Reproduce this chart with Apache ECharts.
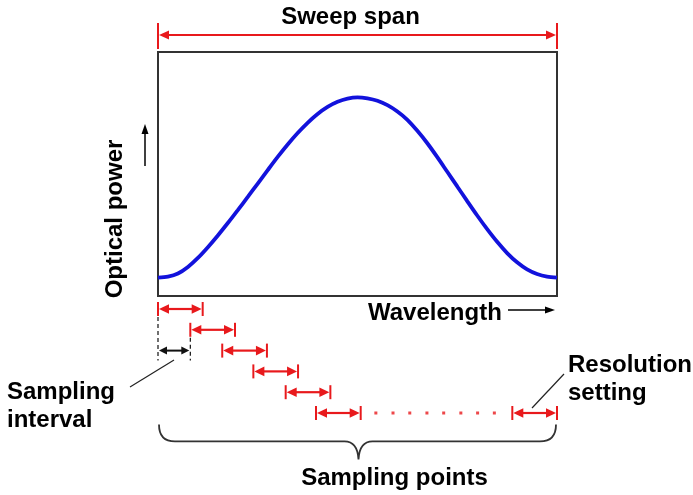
<!DOCTYPE html>
<html><head><meta charset="utf-8">
<script src="https://cdn.jsdelivr.net/npm/echarts@6/dist/echarts.min.js"></script>
<style>html,body{margin:0;padding:0;background:#fff}#c{width:693px;height:495px}</style>
</head><body><div id="c"></div>
<script>
// ---- data ----
const wavelength   = [0, 2.5, 5, 7.5, 10, 12.5, 15, 17.5, 20, 22.5, 25, 27.5, 30, 32.5, 35, 37.5, 40, 42.5, 45, 47.5, 50,
                      52.5, 55, 57.5, 60, 62.5, 65, 67.5, 70, 72.5, 75, 77.5, 80, 82.5, 85, 87.5, 90, 92.5, 95, 97.5, 100];
const opticalPower = [7.5, 7.9, 9.2, 11.9, 15.6, 20.0, 24.8, 29.9, 35.2, 40.6, 46.1, 51.6, 57.0, 62.1, 66.8, 71.0, 74.6, 77.5, 79.6, 80.9, 81.4,
                      81.0, 80.0, 78.2, 75.6, 72.2, 67.7, 62.6, 56.9, 50.9, 44.9, 38.9, 33.0, 27.4, 22.2, 17.6, 13.8, 10.9, 9.0, 7.9, 7.5];
const samplingStarts = [0, 8.1, 16.1, 23.9, 32, 39.6, 88.8];
const samplingRows   = [0, 1, 2, 3, 4, 5, 5];
const resolutionWidth = 11.2;
const dotsX = [54.6, 58.9, 63.1, 67.4, 71.6, 75.9, 80.1, 84.3];
const dotsRow = 5;
const intervalRow = 2;
const sweepSpan = [0, 100];
const braceRow = 5.55;
const labels = {
  sweep: 'Sweep span', x: 'Wavelength', y: 'Optical power',
  res1: 'Resolution', res2: 'setting', int1: 'Sampling', int2: 'interval', points: 'Sampling points'
};

// ---- styles ----
const RED = '#e8191c';
const FONT = 'bold 24px "Liberation Sans", Arial, sans-serif';

const chart = echarts.init(document.getElementById('c'));

function arrowShapes(x0, x1, y, color, head, hw, lw) {
  return [
    {type: 'line', shape: {x1: x0 + head - 2, y1: y, x2: x1 - head + 2, y2: y}, style: {stroke: color, lineWidth: lw}},
    {type: 'polygon', shape: {points: [[x0, y], [x0 + head, y - hw], [x0 + head, y + hw]]}, style: {fill: color}},
    {type: 'polygon', shape: {points: [[x1, y], [x1 - head, y - hw], [x1 - head, y + hw]]}, style: {fill: color}}
  ];
}

const sampleData = samplingStarts.map((s, i) => [s, s + resolutionWidth, samplingRows[i]]);

chart.setOption({
  animation: false,
  grid: [
    {left: 158, top: 52, width: 399, height: 244, show: true, borderColor: '#333', borderWidth: 2, backgroundColor: '#fff'},
    {left: 158, top: 309, width: 399, height: 104, show: false}
  ],
  xAxis: [
    {gridIndex: 0, type: 'value', min: 0, max: 100, show: false},
    {gridIndex: 1, type: 'value', min: 0, max: 100, show: false}
  ],
  yAxis: [
    {gridIndex: 0, type: 'value', min: 0, max: 100, show: false},
    {gridIndex: 1, type: 'value', min: 0, max: 5, inverse: true, show: false}
  ],
  series: [
    {
      type: 'line', xAxisIndex: 0, yAxisIndex: 0, smooth: 0.3, symbol: 'none',
      data: wavelength.map((w, i) => [w, opticalPower[i]]),
      lineStyle: {color: '#1212dc', width: 3.8}
    },
    { // sweep span arrow
      type: 'custom', xAxisIndex: 0, yAxisIndex: 0, clip: false,
      data: [sweepSpan],
      renderItem: function (params, api) {
        const a = api.coord([api.value(0), 100]), b = api.coord([api.value(1), 100]);
        const y = a[1] - 17;
        return {type: 'group', children: [
          {type: 'line', shape: {x1: a[0], y1: a[1] - 29, x2: a[0], y2: a[1] - 3}, style: {stroke: RED, lineWidth: 2}},
          {type: 'line', shape: {x1: b[0], y1: b[1] - 29, x2: b[0], y2: b[1] - 3}, style: {stroke: RED, lineWidth: 2}}
        ].concat(arrowShapes(a[0] + 1, b[0] - 1, y, RED, 10, 4.5, 2))};
      }
    },
    { // resolution arrows
      type: 'custom', xAxisIndex: 1, yAxisIndex: 1, clip: false,
      data: sampleData,
      renderItem: function (params, api) {
        const a = api.coord([api.value(0), api.value(2)]), b = api.coord([api.value(1), api.value(2)]);
        const y = a[1];
        return {type: 'group', children: [
          {type: 'line', shape: {x1: a[0], y1: y - 7, x2: a[0], y2: y + 7}, style: {stroke: RED, lineWidth: 2}},
          {type: 'line', shape: {x1: b[0], y1: y - 7, x2: b[0], y2: y + 7}, style: {stroke: RED, lineWidth: 2}}
        ].concat(arrowShapes(a[0] + 1, b[0] - 1, y, RED, 10, 4.8, 2.2))};
      }
    },
    { // sampling interval (black)
      type: 'custom', xAxisIndex: 1, yAxisIndex: 1, clip: false,
      data: [[samplingStarts[0], samplingStarts[1], intervalRow]],
      renderItem: function (params, api) {
        const a = api.coord([api.value(0), api.value(2)]), b = api.coord([api.value(1), api.value(2)]);
        const top0 = api.coord([api.value(0), samplingRows[0]])[1] + 8;
        const top1 = api.coord([api.value(1), samplingRows[1]])[1] + 8;
        const y = a[1];
        const dash = {stroke: '#111', lineWidth: 1.2, lineDash: [4, 3]};
        return {type: 'group', children: [
          {type: 'line', shape: {x1: a[0], y1: top0, x2: a[0], y2: y + 10}, style: dash},
          {type: 'line', shape: {x1: b[0], y1: top1, x2: b[0], y2: y + 10}, style: dash}
        ].concat(arrowShapes(a[0] + 1, b[0] - 1, y, '#111', 8, 4, 2))};
      }
    },
    { // dots
      type: 'scatter', xAxisIndex: 1, yAxisIndex: 1, symbol: 'rect', symbolSize: 3,
      itemStyle: {color: RED},
      data: dotsX.map(x => [x, dotsRow])
    },
    { // brace
      type: 'custom', xAxisIndex: 1, yAxisIndex: 1, clip: false,
      data: [[sweepSpan[0], sweepSpan[1], braceRow]],
      renderItem: function (params, api) {
        const l = api.coord([api.value(0), api.value(2)]);
        const r = api.coord([api.value(1), api.value(2)]);
        const m = api.coord([(api.value(0) + api.value(1)) / 2, api.value(2)]);
        const y0 = l[1], y1 = y0 + 17, y2 = y0 + 35;
        const xl = l[0] + 1, xr = r[0] - 1, xm = m[0] + 1;
        const d = `M${xl},${y0} Q${xl},${y1} ${xl + 16},${y1} L${xm - 14},${y1} Q${xm - 1},${y1} ${xm},${y2} Q${xm + 1},${y1} ${xm + 14},${y1} L${xr - 16},${y1} Q${xr},${y1} ${xr},${y0}`;
        return {type: 'path', shape: {pathData: d}, style: {stroke: '#333', lineWidth: 1.8, fill: null}};
      }
    }
  ],
  graphic: [
    {type: 'text', style: {text: labels.sweep, x: 350.5, y: 17, font: FONT, fill: '#000', textAlign: 'center', textVerticalAlign: 'middle'}},
    {type: 'text', style: {text: labels.x, x: 368, y: 313.5, font: FONT, fill: '#000', textAlign: 'left', textVerticalAlign: 'middle'}},
    {type: 'text', x: 115, y: 219, rotation: Math.PI / 2, style: {text: labels.y, x: 0, y: 0, font: FONT, fill: '#000', textAlign: 'center', textVerticalAlign: 'middle'}},
    {type: 'text', style: {text: labels.res1, x: 568, y: 365.5, font: FONT, fill: '#000', textAlign: 'left', textVerticalAlign: 'middle'}},
    {type: 'text', style: {text: labels.res2, x: 568, y: 393.5, font: FONT, fill: '#000', textAlign: 'left', textVerticalAlign: 'middle'}},
    {type: 'text', style: {text: labels.int1, x: 7, y: 392, font: FONT, fill: '#000', textAlign: 'left', textVerticalAlign: 'middle'}},
    {type: 'text', style: {text: labels.int2, x: 7, y: 420.5, font: FONT, fill: '#000', textAlign: 'left', textVerticalAlign: 'middle'}},
    {type: 'text', style: {text: labels.points, x: 394.5, y: 478.5, font: FONT, fill: '#000', textAlign: 'center', textVerticalAlign: 'middle'}},
    // axis direction arrows
    {type: 'line', shape: {x1: 508, y1: 310, x2: 546, y2: 310}, style: {stroke: '#000', lineWidth: 1.5}},
    {type: 'polygon', shape: {points: [[555, 310], [545, 306.5], [545, 313.5]]}, style: {fill: '#000'}},
    {type: 'line', shape: {x1: 145, y1: 166, x2: 145, y2: 133}, style: {stroke: '#000', lineWidth: 1.5}},
    {type: 'polygon', shape: {points: [[145, 124], [141.5, 134], [148.5, 134]]}, style: {fill: '#000'}},
    // leader lines
    {type: 'line', shape: {x1: 174, y1: 360, x2: 130, y2: 387}, style: {stroke: '#222', lineWidth: 1.2}},
    {type: 'line', shape: {x1: 532, y1: 408, x2: 564, y2: 374}, style: {stroke: '#222', lineWidth: 1.2}}
  ]
});
</script></body></html>
